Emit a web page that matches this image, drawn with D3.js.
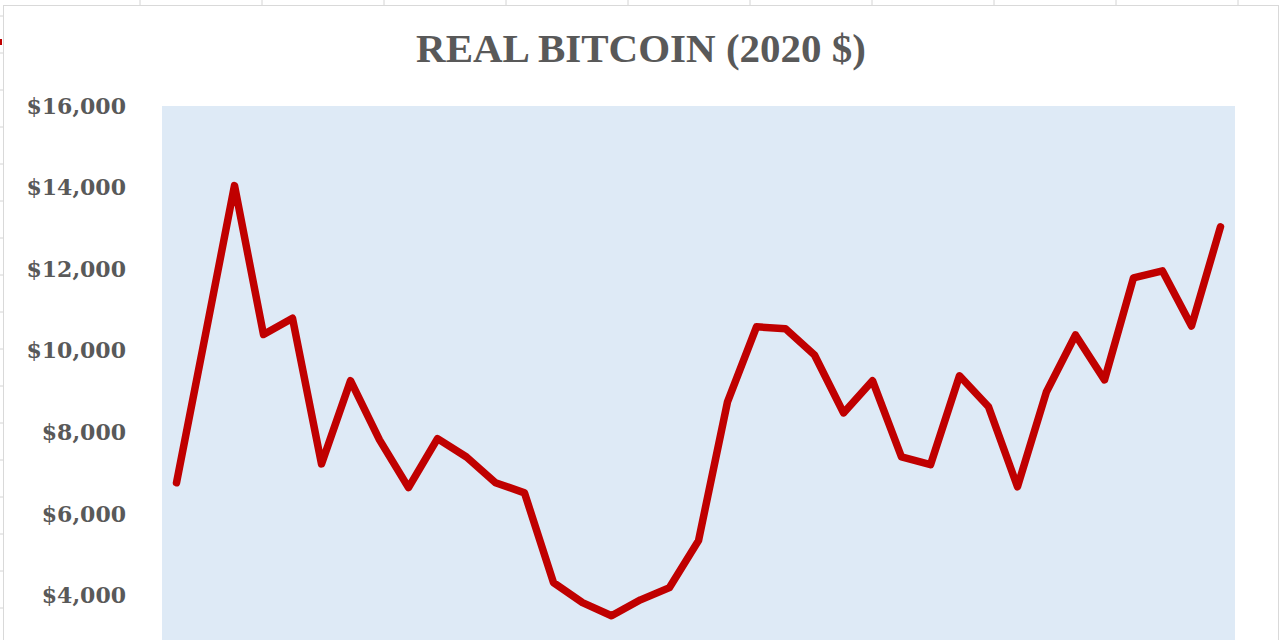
<!DOCTYPE html>
<html>
<head>
<meta charset="utf-8">
<script src="https://cdn.jsdelivr.net/npm/d3@7"></script>
<style>
  html, body { margin: 0; padding: 0; background: #fff; overflow: hidden; }
  #container { width: 1280px; height: 640px; }
</style>
</head>
<body>
<div id="container"></div>
<script>
// monthly real bitcoin price, 2020 dollars
const months = ["Oct-17", "Nov-17", "Dec-17", "Jan-18", "Feb-18", "Mar-18", "Apr-18", "May-18", "Jun-18", "Jul-18",
    "Aug-18", "Sep-18", "Oct-18", "Nov-18", "Dec-18", "Jan-19", "Feb-19", "Mar-19", "Apr-19", "May-19",
    "Jun-19", "Jul-19", "Aug-19", "Sep-19", "Oct-19", "Nov-19", "Dec-19", "Jan-20", "Feb-20", "Mar-20",
    "Apr-20", "May-20", "Jun-20", "Jul-20", "Aug-20", "Sep-20", "Oct-20"];
const prices = [6770, 10400, 14050, 10400, 10800, 7230, 9270, 7820, 6650, 7850,
    7400, 6770, 6520, 4320, 3830, 3510, 3900, 4200, 5350, 8750,
    10590, 10540, 9900, 8480, 9270, 7400, 7210, 9390, 8630, 6670,
    9000, 10390, 9290, 11790, 11960, 10610, 13040];
const yTicks = [4000, 6000, 8000, 10000, 12000, 14000, 16000];
const title = "REAL BITCOIN (2020 $)";

const width = 1280;
const height = 640;
const margin = {top: 106, left: 162, right: 45};
const textColor = "#595959";

const svg = d3.create("svg")
    .attr("width", width)
    .attr("height", height);

// spreadsheet behind the chart object
svg.append("rect")
    .attr("width", width)
    .attr("height", height)
    .attr("fill", "#ffffff");

svg.append("g")
    .selectAll("line")
    .data(d3.range(140, width, 122))
    .join("line")
    .attr("x1", d => d).attr("x2", d => d)
    .attr("y1", 0).attr("y2", 5)
    .attr("stroke", "#d4d4d4");

svg.append("g")
    .selectAll("line")
    .data(d3.range(16, height, 37))
    .join("line")
    .attr("x1", 0).attr("x2", 3)
    .attr("y1", d => d).attr("y2", d => d)
    .attr("stroke", "#d4d4d4");

svg.append("rect")
    .attr("x", 0).attr("y", 39)
    .attr("width", 2).attr("height", 6)
    .attr("fill", "#c00000");

// chart frame
svg.append("rect")
    .attr("x", 3.5).attr("y", 5.5)
    .attr("width", 1275).attr("height", 660)
    .attr("fill", "#ffffff")
    .attr("stroke", "#d9d9d9");

const x = d3.scaleBand()
    .domain(months)
    .range([margin.left, width - margin.right]);

const y = d3.scaleLinear()
    .domain([0, 16000])
    .range([759, margin.top]);

// plot area
svg.append("rect")
    .attr("x", margin.left)
    .attr("y", y(16000))
    .attr("width", x.range()[1] - x.range()[0])
    .attr("height", y(0) - y(16000))
    .attr("fill", "#deeaf6");

svg.append("text")
    .attr("x", 641)
    .attr("y", 62)
    .attr("text-anchor", "middle")
    .attr("font-family", "'Liberation Serif', 'Times New Roman', serif")
    .attr("font-weight", "bold")
    .attr("font-size", "41px")
    .attr("fill", textColor)
    .text(title);

const yAxis = svg.append("g")
    .attr("transform", `translate(${margin.left}, 0)`)
    .call(d3.axisLeft(y).tickValues(yTicks).tickSize(0).tickPadding(36)
        .tickFormat(d => "$" + d3.format(",")(d)));

yAxis.select(".domain").remove();
yAxis.selectAll("text")
    .attr("font-family", "'DejaVu Serif', serif")
    .attr("font-weight", "bold")
    .attr("font-size", "22px")
    .attr("fill", textColor);

svg.append("path")
    .datum(prices)
    .attr("fill", "none")
    .attr("stroke", "#c00000")
    .attr("stroke-width", 7.5)
    .attr("stroke-linejoin", "round")
    .attr("stroke-linecap", "round")
    .attr("d", d3.line()
        .x((d, i) => x(months[i]) + x.bandwidth() / 2)
        .y(d => y(d)));

document.getElementById("container").append(svg.node());
</script>
</body>
</html>
